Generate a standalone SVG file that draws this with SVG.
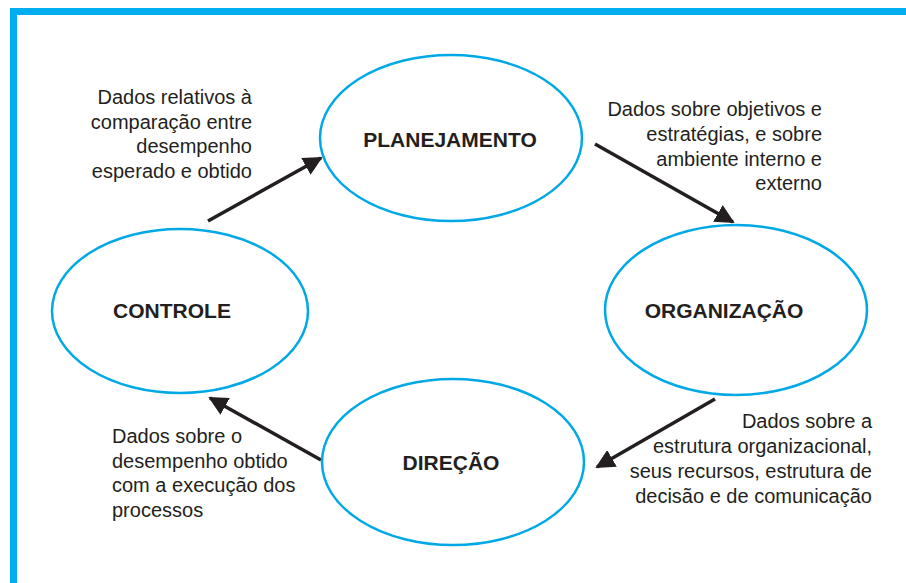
<svg xmlns="http://www.w3.org/2000/svg" width="906" height="583" viewBox="0 0 906 583">
<defs>
<style>
.node{fill:#fff;stroke:#00a9e6;stroke-width:2.5}
.lbl{font-family:"Liberation Sans",Arial,sans-serif;font-weight:bold;font-size:21px;fill:#231f20;text-anchor:middle}
.note{font-family:"Liberation Sans",Arial,sans-serif;font-size:20px;fill:#231f20}
.r{text-anchor:end}
.conn{stroke:#231f20;stroke-width:3.5;fill:none;marker-end:url(#ah)}
</style>
<marker id="ah" viewBox="0 0 10 10" refX="9" refY="5" markerWidth="5.5" markerHeight="5.5" markerUnits="strokeWidth" orient="auto">
<path d="M0,0 L10,5 L0,10 z" fill="#231f20"/>
</marker>
</defs>
<rect width="906" height="583" fill="#fff"/>
<path d="M13.5,590 V11.5 H910" fill="none" stroke="#00aeef" stroke-width="7"/>
<g id="connectors">
<line class="conn" x1="208" y1="221" x2="321" y2="158"/>
<line class="conn" x1="595" y1="144" x2="733" y2="222"/>
<line class="conn" x1="715" y1="399" x2="597" y2="467"/>
<line class="conn" x1="321" y1="460" x2="210" y2="398"/>
</g>
<g id="planejamento">
<ellipse class="node" cx="451" cy="138" rx="131" ry="83"/>
<text class="lbl" x="450" y="147">PLANEJAMENTO</text>
</g>
<g id="organizacao">
<ellipse class="node" cx="736" cy="310" rx="131" ry="85"/>
<text class="lbl" x="724" y="318">ORGANIZAÇÃO</text>
</g>
<g id="direcao">
<ellipse class="node" cx="453" cy="462" rx="131" ry="83"/>
<text class="lbl" x="451" y="470">DIREÇÃO</text>
</g>
<g id="controle">
<ellipse class="node" cx="180" cy="311" rx="128" ry="82"/>
<text class="lbl" x="172" y="318">CONTROLE</text>
</g>
<g id="notes">
<text class="note r" x="252" y="104">Dados relativos à</text>
<text class="note r" x="252" y="128.5">comparação entre</text>
<text class="note r" x="252" y="153">desempenho</text>
<text class="note r" x="252" y="177.5">esperado e obtido</text>
<text class="note r" x="822" y="116">Dados sobre objetivos e</text>
<text class="note r" x="822" y="141">estratégias, e sobre</text>
<text class="note r" x="822" y="166">ambiente interno e</text>
<text class="note r" x="822" y="190">externo</text>
<text class="note r" x="872" y="428">Dados sobre a</text>
<text class="note r" x="872" y="453">estrutura organizacional,</text>
<text class="note r" x="872" y="478">seus recursos, estrutura de</text>
<text class="note r" x="872" y="503">decisão e de comunicação</text>
<text class="note" x="112" y="443">Dados sobre o</text>
<text class="note" x="112" y="468">desempenho obtido</text>
<text class="note" x="112" y="492">com a execução dos</text>
<text class="note" x="112" y="517">processos</text>
</g>
</svg>
